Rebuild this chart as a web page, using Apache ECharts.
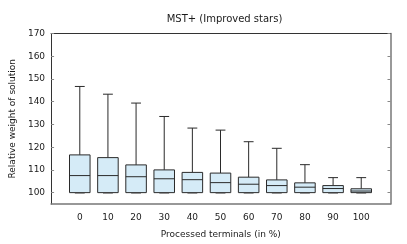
<!DOCTYPE html>
<html><head><meta charset="utf-8">
<script src="https://cdn.jsdelivr.net/npm/echarts@6/dist/echarts.min.js"></script>
<style>html,body{margin:0;padding:0;background:#fff}#c{width:407px;height:244px}</style>
</head><body><div id="c"></div>
<script>
const categories = [0, 10, 20, 30, 40, 50, 60, 70, 80, 90, 100];
const whiskerLow = [100, 100, 100, 100, 100, 100, 100, 100, 100, 100, 100];
const q1 = [100, 100, 100, 100, 100, 100, 100, 100, 100, 100, 100];
const median = [107.5, 107.5, 107.0, 106.1, 105.7, 104.4, 103.7, 103.1, 102.4, 101.8, 100.7];
const q3 = [116.6, 115.4, 112.2, 110.0, 108.9, 108.6, 106.8, 105.6, 104.3, 103.1, 101.7];
const whiskerHigh = [146.7, 143.3, 139.4, 133.5, 128.4, 127.5, 122.4, 119.5, 112.3, 106.6, 106.6];
const yTicks = [100, 110, 120, 130, 140, 150, 160, 170];

const data = categories.map((c, i) => [c, whiskerLow[i], q1[i], median[i], q3[i], whiskerHigh[i]]);
const FONT = 'DejaVu Sans';
const LINE = '#2a2a2a';

const chart = echarts.init(document.getElementById('c'), null, {renderer: 'canvas'});
chart.setOption({
  animation: false,
  backgroundColor: '#fff',
  title: {
    text: 'MST+ (Improved stars)', left: 219.5, textAlign: 'center', top: 9,
    textStyle: {fontFamily: FONT, fontSize: 10, fontWeight: 'normal', color: '#1a1a1a'}
  },
  grid: {left: 48.5, top: 33.5, right: 16.5, bottom: 33.5, show: false},
  xAxis: [{
    type: 'value', min: -10.2, max: 110.4, position: 'bottom',
    name: 'Processed terminals (in %)', nameLocation: 'middle', nameGap: 26,
    nameTextStyle: {fontFamily: FONT, fontSize: 9, color: '#1a1a1a'},
    axisLine: {show: true, onZero: false, lineStyle: {color: '#777', width: 1.5}},
    axisTick: {show: false},
    axisLabel: {customValues: categories, fontFamily: FONT, fontSize: 9, color: '#1a1a1a', margin: 9},
    splitLine: {show: false}
  }, {
    type: 'value', min: -10.2, max: 110.4, position: 'top',
    axisLine: {show: true, onZero: false, lineStyle: {color: '#333', width: 1}},
    axisTick: {show: false}, axisLabel: {show: false}, splitLine: {show: false}
  }],
  yAxis: [{
    type: 'value', min: 95, max: 170, position: 'left',
    name: 'Relative weight of solution', nameLocation: 'middle', nameGap: 34,
    nameTextStyle: {fontFamily: FONT, fontSize: 9, color: '#1a1a1a'},
    axisLine: {show: true, onZero: false, lineStyle: {color: '#333', width: 1}},
    axisTick: {show: true, inside: true, length: 3, customValues: yTicks, lineStyle: {color: '#888'}},
    axisLabel: {customValues: yTicks, fontFamily: FONT, fontSize: 9, color: '#1a1a1a', margin: 6},
    splitLine: {show: false}
  }, {
    type: 'value', min: 95, max: 170, position: 'right',
    axisLine: {show: true, onZero: false, lineStyle: {color: '#777', width: 1.5}},
    axisTick: {show: true, inside: true, length: 3, customValues: yTicks, lineStyle: {color: '#888'}},
    axisLabel: {show: false}, splitLine: {show: false}
  }],
  series: [{
    type: 'custom',
    xAxisIndex: 0, yAxisIndex: 0,
    data: data,
    encode: {x: 0, y: [1, 2, 3, 4, 5]},
    renderItem: function (params, api) {
      const x = api.value(0);
      const pLow = api.coord([x, api.value(1)]);
      const pQ1 = api.coord([x, api.value(2)]);
      const pMed = api.coord([x, api.value(3)]);
      const pQ3 = api.coord([x, api.value(4)]);
      const pHigh = api.coord([x, api.value(5)]);
      const boxHalf = api.size([3.65, 0])[0];
      const capHalf = api.size([1.75, 0])[0];
      const cx = pMed[0];
      const ls = {stroke: LINE, lineWidth: 1};
      return {
        type: 'group',
        children: [
          {type: 'line', shape: {x1: cx, y1: pQ3[1], x2: cx, y2: pHigh[1]}, style: ls},
          {type: 'line', shape: {x1: cx - capHalf, y1: pHigh[1], x2: cx + capHalf, y2: pHigh[1]}, style: ls},
          {type: 'line', shape: {x1: cx - capHalf, y1: pLow[1] + 0.8, x2: cx + capHalf, y2: pLow[1] + 0.8}, style: {stroke: '#999', lineWidth: 1}},
          {type: 'rect', shape: {x: cx - boxHalf, y: pQ3[1], width: boxHalf * 2, height: pQ1[1] - pQ3[1]},
            style: {fill: '#d5ebf7', stroke: LINE, lineWidth: 1}},
          {type: 'line', shape: {x1: cx - boxHalf, y1: pMed[1], x2: cx + boxHalf, y2: pMed[1]}, style: ls}
        ]
      };
    }
  }]
});
</script></body></html>
